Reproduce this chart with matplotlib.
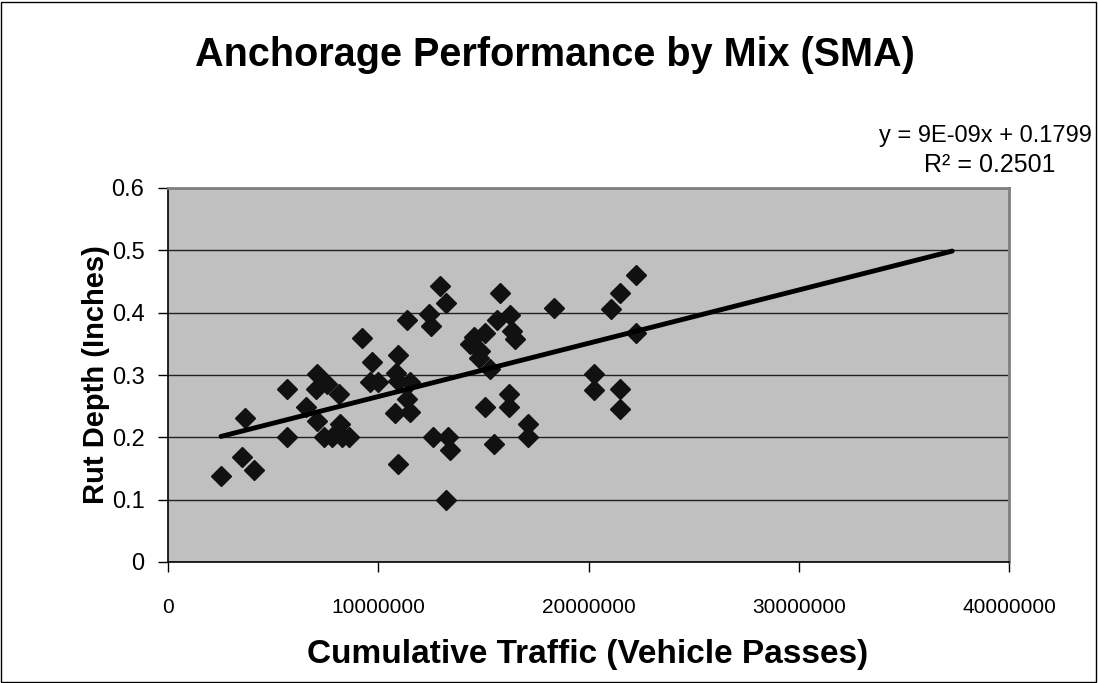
import matplotlib
matplotlib.use("Agg")
import matplotlib.pyplot as plt
from matplotlib.patches import Rectangle
import numpy as np

plt.rcParams['font.family'] = ['Liberation Sans', 'DejaVu Sans']

# Cumulative traffic (vehicle passes) and rut depth (inches)
traffic = [2.52e6, 3.54e6, 4.10e6, 3.68e6, 5.67e6, 5.67e6, 6.56e6, 7.10e6, 7.03e6, 7.56e6,
           7.08e6, 7.40e6, 7.80e6, 8.11e6, 8.19e6, 8.27e6, 8.60e6, 9.24e6, 9.68e6, 9.62e6,
           10.0e6, 10.94e6, 10.83e6, 10.92e6, 11.52e6, 11.36e6, 11.52e6, 10.80e6, 10.94e6, 11.36e6,
           12.40e6, 12.50e6, 12.95e6, 13.24e6, 12.60e6, 13.30e6, 13.40e6, 13.24e6,
           15.81e6, 15.65e6, 16.25e6, 15.10e6, 14.54e6, 14.38e6, 14.86e6, 14.78e6, 16.37e6, 16.52e6,
           15.33e6, 15.10e6, 16.24e6, 16.24e6, 15.52e6, 17.10e6, 17.10e6, 18.38e6,
           20.25e6, 20.25e6, 21.52e6, 21.52e6, 21.08e6, 21.52e6, 22.24e6, 22.24e6]
rut_depth = [0.138, 0.168, 0.148, 0.231, 0.201, 0.277, 0.249, 0.302, 0.277, 0.286,
             0.227, 0.201, 0.201, 0.269, 0.221, 0.201, 0.201, 0.360, 0.321, 0.288,
             0.288, 0.332, 0.304, 0.291, 0.288, 0.261, 0.240, 0.239, 0.157, 0.388,
             0.398, 0.378, 0.442, 0.416, 0.201, 0.201, 0.180, 0.100,
             0.431, 0.389, 0.397, 0.368, 0.361, 0.349, 0.339, 0.328, 0.371, 0.357,
             0.310, 0.248, 0.269, 0.248, 0.190, 0.221, 0.200, 0.407,
             0.302, 0.276, 0.277, 0.246, 0.406, 0.431, 0.460, 0.368]

trend_slope = 8.55e-9
trend_intercept = 0.1799
trend_x_end = 37.3e6
equation_text = "y = 9E-09x + 0.1799"
r2_text = "R² = 0.2501"

x_ticks = [0, 10000000, 20000000, 30000000, 40000000]
y_ticks = [0, 0.1, 0.2, 0.3, 0.4, 0.5, 0.6]

W, H = 1098, 683
fig = plt.figure(figsize=(W / 100, H / 100), dpi=100)
fig.patch.set_facecolor('white')
fig.add_artist(Rectangle((1 / W, 1 / H), 1 - 3 / W, 1 - 3 / H, transform=fig.transFigure,
                         fill=False, edgecolor='black', linewidth=1.0))

ax = fig.add_axes([168 / W, 1 - 562 / H, (1009 - 168) / W, (562 - 188) / H])
ax.set_facecolor('#C0C0C0')
ax.set_xlim(0, 40000000)
ax.set_ylim(0, 0.6)
ax.set_xticks(x_ticks)
ax.set_xticklabels([str(v) for v in x_ticks])
ax.set_yticks(y_ticks)
ax.set_yticklabels(['0', '0.1', '0.2', '0.3', '0.4', '0.5', '0.6'])
ax.tick_params(axis='both', direction='out', length=7, width=1, color='black')
ax.tick_params(axis='y', labelsize=17, pad=10)
ax.tick_params(axis='x', labelsize=15, pad=19)
ax.yaxis.grid(True, color='#202020', linewidth=1.0)
ax.set_axisbelow(True)
for s in ['top', 'right']:
    ax.spines[s].set_color('#808080')
    ax.spines[s].set_linewidth(2)
for s in ['left', 'bottom']:
    ax.spines[s].set_color('black')
    ax.spines[s].set_linewidth(1.2)

ax.plot(traffic, rut_depth, linestyle='none', marker='D', markersize=10,
        markerfacecolor='#111111', markeredgecolor='#111111', zorder=3)

tx = np.array([min(traffic), trend_x_end])
ax.plot(tx, trend_slope * tx + trend_intercept, color='black', linewidth=3.5,
        solid_capstyle='round', zorder=4)

fig.text(555 / W, 1 - 55 / H, 'Anchorage Performance by Mix (SMA)', ha='center', va='center',
         fontsize=28.5, fontweight='bold')
fig.text(588 / W, 1 - 655 / H, 'Cumulative Traffic (Vehicle Passes)', ha='center', va='center',
         fontsize=24, fontweight='bold')
fig.text(96 / W, 1 - 375 / H, 'Rut Depth (Inches)', ha='center', va='center', rotation=90,
         fontsize=21, fontweight='bold')
fig.text(1092 / W, 1 - 142 / H, equation_text, ha='right', va='baseline', fontsize=17)
fig.text(990 / W, 1 - 172 / H, r2_text, ha='center', va='baseline', fontsize=18)

fig.savefig('out.png', dpi=100)
